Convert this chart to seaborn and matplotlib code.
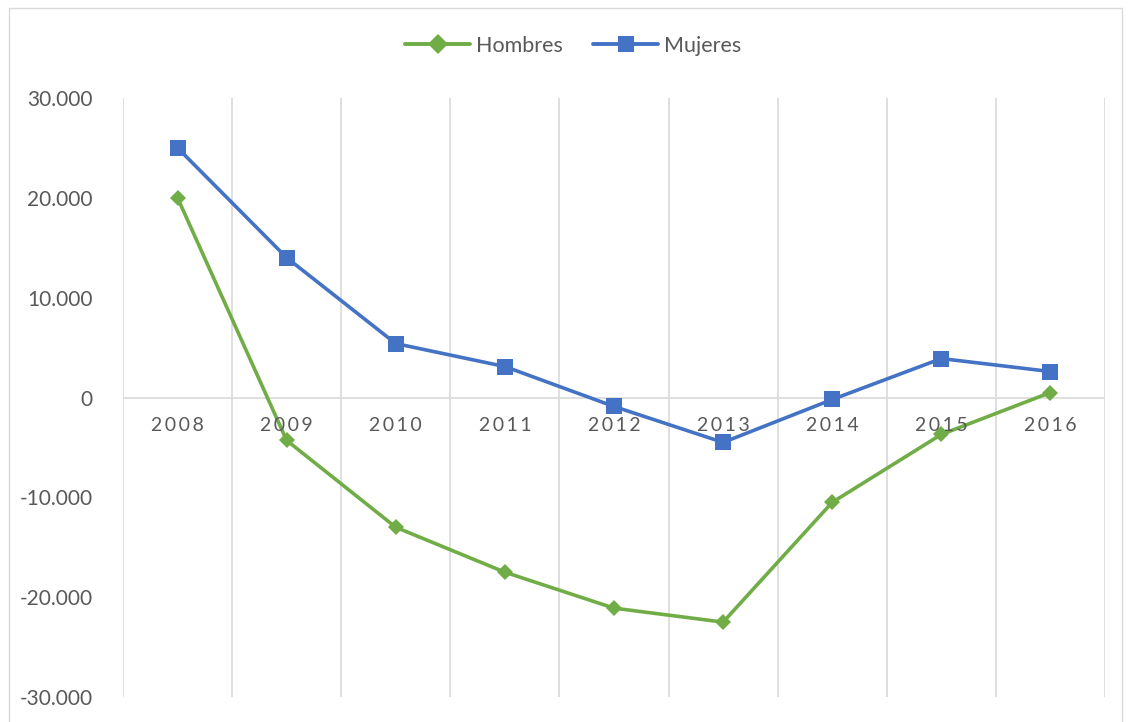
import matplotlib.pyplot as plt
import matplotlib.ticker as mticker
from matplotlib.patches import Rectangle
import seaborn as sns
import pandas as pd

# data
years = ['2008', '2009', '2010', '2011', '2012', '2013', '2014', '2015', '2016']
hombres = [20000, -4300, -13000, -17500, -21100, -22500, -10500, -3700, 500]
mujeres = [25000, 14000, 5400, 3100, -900, -4500, -200, 3900, 2600]

green = '#70ad47'
blue = '#4472c4'
grey_txt = '#595959'
grid_c = '#d9d9d9'

df = pd.DataFrame({'Año': years * 2,
                   'Valor': hombres + mujeres,
                   'Serie': ['Hombres'] * len(years) + ['Mujeres'] * len(years)})

sns.set_style('white')
plt.rcParams['font.family'] = ['Lato', 'DejaVu Sans']

fig = plt.figure(figsize=(11.29, 7.22), dpi=100)
ax = fig.add_axes([123 / 1129, 1 - 697 / 722, (1105 - 123) / 1129, (697 - 98) / 722])

sns.lineplot(data=df, x='Año', y='Valor', hue='Serie', style='Serie',
             palette={'Hombres': green, 'Mujeres': blue},
             markers={'Hombres': 'D', 'Mujeres': 's'}, dashes=False,
             linewidth=2.6, markersize=11, markeredgewidth=0, ax=ax)

# make diamonds a bit smaller than squares
for ln in ax.get_lines():
    if ln.get_marker() == 'D':
        ln.set_markersize(8.5)

ax.set_xlim(-0.5, len(years) - 0.5)
ax.set_ylim(-30000, 30000)
ax.yaxis.set_major_locator(mticker.MultipleLocator(10000))
ax.yaxis.set_major_formatter(mticker.FuncFormatter(lambda v, p: f'{v:,.0f}'.replace(',', '.')))
ax.tick_params(axis='y', length=0, pad=22, labelsize=15, labelcolor=grey_txt)

# vertical gridlines at category boundaries
ax.set_xticks([i - 0.5 for i in range(len(years) + 1)], minor=True)
ax.grid(True, axis='x', which='minor', color=grid_c, linewidth=1.2)
ax.grid(False, axis='y')
ax.set_xticks([])
ax.axhline(0, color=grid_c, linewidth=1.2, zorder=1)

for i, y in enumerate(years):
    ax.text(i, -2000, '\u2009'.join(y), ha='center', va='top',
            fontsize=14, color=grey_txt)

for s in ax.spines.values():
    s.set_visible(False)
ax.set_xlabel('')
ax.set_ylabel('')

handles, labels = ax.get_legend_handles_labels()
ax.legend_.remove()
for h in handles:
    h.set_linewidth(2.8)
    h.set_markersize(12 if h.get_marker() == 's' else 10)
fig.legend(handles, labels, loc='center', bbox_to_anchor=(0.508, 1 - 46 / 722),
           ncol=2, frameon=False, fontsize=15.5, handlelength=3.0,
           columnspacing=1.4, handletextpad=0.3, labelcolor=grey_txt)

# outer chart border
fig.patches.append(Rectangle((9 / 1129, -0.02), (1122 - 9) / 1129, 1.02 - 8 / 722,
                             transform=fig.transFigure, fill=False,
                             edgecolor=grid_c, linewidth=1))

fig.savefig('out.png', dpi=100)
